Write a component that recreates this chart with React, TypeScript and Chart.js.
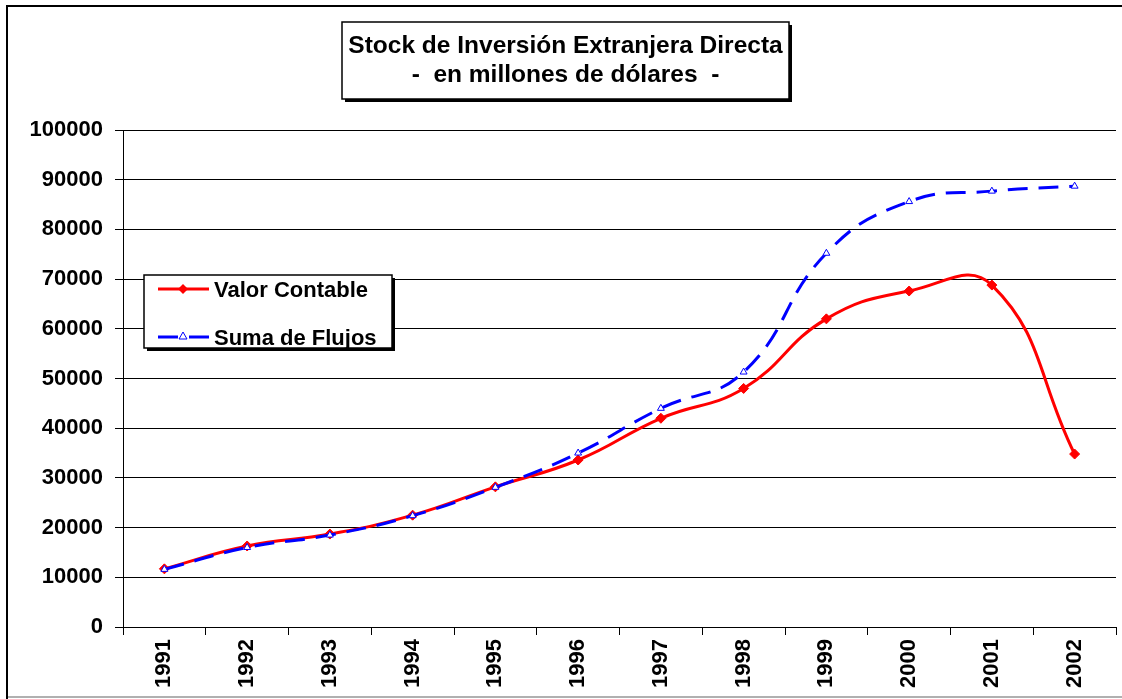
import React, { useEffect, useRef } from "react";
import { Chart, registerables } from "chart.js";

Chart.register(...registerables);

const years = ["1991", "1992", "1993", "1994", "1995", "1996", "1997", "1998", "1999", "2000", "2001", "2002"];
const valorContable = [11700, 16300, 18700, 22500, 28200, 33600, 42000, 48000, 62000, 67600, 68800, 34800];
const sumaFlujos = [11600, 16000, 18500, 22400, 28100, 35000, 44000, 51300, 75200, 85600, 87700, 88700];
const titleLines = ["Stock de Inversión Extranjera Directa", "-  en millones de dólares  -"];
const legendLabels = ["Valor Contable", "Suma de Flujos"];

const FONT = "'Liberation Sans', Arial, sans-serif";
const RED = "#FF0000";
const BLUE = "#0000FF";

const decorPlugin = {
  id: "decor",
  beforeDraw(chart: any) {
    const ctx = chart.ctx;
    ctx.save();
    ctx.fillStyle = "#fff";
    ctx.fillRect(0, 0, chart.width, chart.height);
    ctx.fillStyle = "#000";
    ctx.fillRect(6, 5, chart.width - 6, 2);
    ctx.fillRect(6, 5, 2, chart.height - 5);
    ctx.fillStyle = "#b0b0b0";
    ctx.fillRect(8, 696, chart.width - 8, 2);
    ctx.restore();
  },
  afterDraw(chart: any) {
    const ctx = chart.ctx;
    ctx.save();
    // title box
    const tx = 342, ty = 22, tw = 447, th = 77;
    ctx.fillStyle = "#000";
    ctx.fillRect(tx + 3, ty + 3, tw, th);
    ctx.fillStyle = "#fff";
    ctx.fillRect(tx, ty, tw, th);
    ctx.strokeStyle = "#000";
    ctx.lineWidth = 1.5;
    ctx.strokeRect(tx, ty, tw, th);
    ctx.fillStyle = "#000";
    ctx.font = `bold 24.5px ${FONT}`;
    ctx.textAlign = "center";
    ctx.textBaseline = "alphabetic";
    ctx.fillText(titleLines[0], tx + tw / 2, 53);
    ctx.fillText(titleLines[1], tx + tw / 2, 82);

    // legend box
    const lx = 144, ly = 275, lw = 248, lh = 73;
    ctx.fillStyle = "#000";
    ctx.fillRect(lx + 3, ly + 3, lw, lh);
    ctx.fillStyle = "#fff";
    ctx.fillRect(lx, ly, lw, lh);
    ctx.strokeRect(lx, ly, lw, lh);

    // red sample
    ctx.strokeStyle = RED;
    ctx.lineWidth = 3;
    ctx.beginPath();
    ctx.moveTo(158, 289);
    ctx.lineTo(209, 289);
    ctx.stroke();
    ctx.fillStyle = RED;
    ctx.beginPath();
    ctx.moveTo(183 - 5, 289);
    ctx.lineTo(183, 284);
    ctx.lineTo(183 + 5, 289);
    ctx.lineTo(183, 294);
    ctx.closePath();
    ctx.fill();

    // blue sample
    ctx.strokeStyle = BLUE;
    ctx.setLineDash([20, 11]);
    ctx.beginPath();
    ctx.moveTo(158, 337);
    ctx.lineTo(209, 337);
    ctx.stroke();
    ctx.setLineDash([]);
    ctx.lineWidth = 1;
    ctx.fillStyle = "#fff";
    ctx.beginPath();
    ctx.moveTo(183, 332);
    ctx.lineTo(187, 339);
    ctx.lineTo(179, 339);
    ctx.closePath();
    ctx.fill();
    ctx.stroke();

    ctx.fillStyle = "#000";
    ctx.font = `bold 22px ${FONT}`;
    ctx.textAlign = "left";
    ctx.fillText(legendLabels[0], 214, 297);
    ctx.fillText(legendLabels[1], 214, 345);
    ctx.restore();
  },
};

export default function App() {
  const ref = useRef<HTMLCanvasElement>(null);
  useEffect(() => {
    if (!ref.current) return;
    const chart = new Chart(ref.current, {
      type: "line",
      data: {
        labels: years,
        datasets: [
          {
            label: legendLabels[1],
            data: sumaFlujos,
            borderColor: BLUE,
            borderWidth: 3,
            borderDash: [20, 11],
            tension: 0.45,
            pointStyle: "triangle",
            pointRadius: 4,
            pointBackgroundColor: "#fff",
            pointBorderColor: BLUE,
            pointBorderWidth: 1,
            fill: false,
            order: 0,
          },
          {
            label: legendLabels[0],
            data: valorContable,
            borderColor: RED,
            borderWidth: 3,
            tension: 0.45,
            pointStyle: "rectRot",
            pointRadius: 5,
            pointBackgroundColor: RED,
            pointBorderColor: RED,
            pointBorderWidth: 1,
            fill: false,
            order: 1,
          },
        ],
      },
      options: {
        animation: false,
        responsive: false,
        layout: { padding: { left: 0, top: 130, right: 3, bottom: 0 } },
        plugins: { legend: { display: false }, title: { display: false }, tooltip: { enabled: false } },
        scales: {
          x: {
            offset: true,
            afterFit: (s: any) => { s.height = 72; },
            grid: { display: true, drawOnChartArea: false, drawTicks: true, tickLength: 8, color: "#000", offset: true },
            border: { display: true, color: "#000", width: 1 },
            ticks: {
              autoSkip: false,
              minRotation: 90,
              maxRotation: 90,
              padding: 4,
              color: "#000",
              font: { family: FONT, size: 22, weight: "bold" },
            },
          },
          y: {
            min: 0,
            max: 100000,
            afterFit: (s: any) => { s.width = 123; },
            grid: { color: "#000", lineWidth: 1, tickLength: 8 },
            border: { display: true, color: "#000", width: 1 },
            ticks: {
              stepSize: 10000,
              padding: 12,
              color: "#000",
              font: { family: FONT, size: 22, weight: "bold" },
              callback: (v: any) => String(v),
            },
          },
        },
      },
      plugins: [decorPlugin],
    });
    return () => chart.destroy();
  }, []);
  return (
    <div style={{ position: "absolute", left: 0, top: 0, width: 1122, height: 699 }}>
      <canvas ref={ref} width={1122} height={699} style={{ display: "block" }} />
    </div>
  );
}
